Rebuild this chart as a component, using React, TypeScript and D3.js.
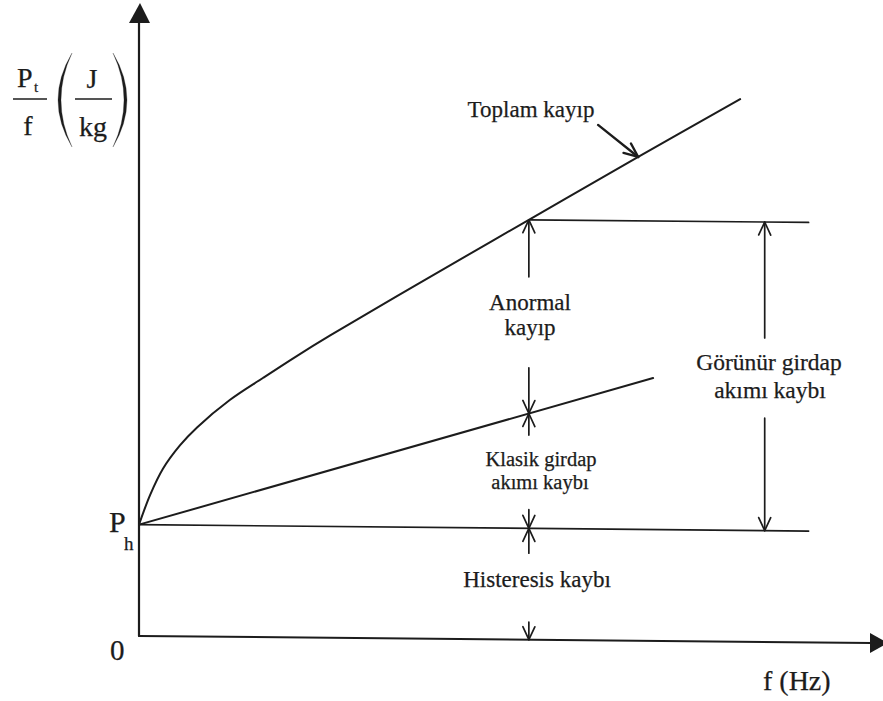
import React from "react";
import * as d3 from "d3";

const W = 883;
const H = 701;

// Loss per cycle (arbitrary units) against frequency (arbitrary units)
const PH = 19.7; // hysteresis loss level
const totalF = [0, 1.5, 3.2, 5.5, 7.8, 12.2, 16.7, 21.2, 25.7, 37.8, 52.4, 67.1, 80.8];
const totalV = [19.7, 25.0, 29.6, 33.8, 37.0, 41.9, 45.9, 49.8, 53.5, 63.0, 74.3, 85.6, 96.0];
const classicF = [0, 69.1];
const classicV = [19.7, 46.5];
const hystEndF = 90;
const markF = 52.4; // frequency where the loss components are broken down
const apparentF = 84.1; // frequency of the apparent eddy-current loss bracket

// Label texts
const yLabelTop = "P";
const yLabelSub = "t";
const xLabel = "f (Hz)";
const phLabel = "P";
const phSub = "h";
const zeroLabel = "0";

const INK = "#1c1c1c";
const FONT = "'Liberation Serif', 'Times New Roman', serif";

function arrowHead(x1: number, y1: number, x2: number, y2: number, len = 13, half = 6) {
  const a = Math.atan2(y2 - y1, x2 - x1);
  const bx = x2 - len * Math.cos(a);
  const by = y2 - len * Math.sin(a);
  const nx = -Math.sin(a) * half;
  const ny = Math.cos(a) * half;
  return `M${bx + nx},${by + ny}L${x2},${y2}L${bx - nx},${by - ny}`;
}

export default function App() {
  const x = d3.scaleLinear().domain([0, 100]).range([139, 883]);
  const y = d3.scaleLinear().domain([0, 112]).range([636, 3]);

  const totalPts: [number, number][] = totalF.map((f, i) => [f, totalV[i]]);
  const classicPts: [number, number][] = classicF.map((f, i) => [f, classicV[i]]);

  const line = d3
    .line<[number, number]>()
    .x((d) => x(d[0]))
    .y((d) => y(d[1]))
    .curve(d3.curveCatmullRom.alpha(0.5));
  const straight = d3
    .line<[number, number]>()
    .x((d) => x(d[0]))
    .y((d) => y(d[1]));

  const totalAt = d3.scaleLinear().domain(totalF).range(totalV);
  const classicAt = d3.scaleLinear().domain(classicF).range(classicV);
  const totalMark = totalAt(markF);
  const classicMark = classicAt(markF);

  // [frequency, tail value, tip value]
  const arrows: [number, number, number][] = [
    [markF, 64.2, totalMark],
    [markF, 48.1, classicMark],
    [markF, 36.2, classicMark],
    [markF, 23.0, PH],
    [markF, 15.3, PH],
    [markF, 3.1, 0],
    [apparentF, 53.8, totalMark],
    [apparentF, 39.6, PH],
  ];

  const toplamTail: [number, number] = [61.7, 91.2];
  const toplamTip: [number, number] = [67.1, 85.6];

  const x0 = x(0);
  const yAxisTop = 3;
  const xAxisEnd = 888;

  // Slight shear of the drawing about the vertical axis
  const shear = `translate(${x0},0) skewY(0.545) translate(${-x0},0)`;

  return (
    <svg
      width={W}
      height={H}
      viewBox={`0 0 ${W} ${H}`}
      style={{ position: "absolute", left: 0, top: 0, background: "#fff" }}
    >
      <rect width={W} height={H} fill="#fff" />
      <g transform={shear} fill="none" stroke={INK} strokeLinecap="round" strokeLinejoin="round">
        {/* axes */}
        <line x1={x0} y1={y(0)} x2={x0} y2={yAxisTop + 18} strokeWidth={2.2} />
        <path
          d={`M${x0 - 10},${yAxisTop + 20}L${x0 + 1},${yAxisTop}L${x0 + 11},${yAxisTop + 20}Z`}
          fill={INK}
          stroke="none"
        />
        <line x1={x0} y1={y(0)} x2={xAxisEnd - 16} y2={y(0)} strokeWidth={2} />
        <path
          d={`M${xAxisEnd - 18},${y(0) - 10}L${xAxisEnd},${y(0)}L${xAxisEnd - 18},${y(0) + 10}Z`}
          fill={INK}
          stroke="none"
        />

        {/* hysteresis level */}
        <path d={straight([[0, PH], [hystEndF, PH]]) || ""} strokeWidth={1.7} />
        {/* classical eddy-current loss */}
        <path d={straight(classicPts) || ""} strokeWidth={2} />
        {/* total loss */}
        <path d={line(totalPts) || ""} strokeWidth={2} />
        {/* level of total loss carried over to the bracket */}
        <path d={straight([[markF, totalMark], [hystEndF, totalMark]]) || ""} strokeWidth={1.7} />

        {/* component arrows */}
        {arrows.map(([f, from, to], i) => {
          const xa = x(f);
          const y1 = y(from);
          const y2 = y(to);
          return (
            <g key={i}>
              <line x1={xa} y1={y1} x2={xa} y2={y2} strokeWidth={1.7} />
              <path d={arrowHead(xa, y1, xa, y2, 13, 6)} strokeWidth={1.7} />
            </g>
          );
        })}

        {/* pointer to the total loss curve */}
        <line
          x1={x(toplamTail[0])}
          y1={y(toplamTail[1])}
          x2={x(toplamTip[0])}
          y2={y(toplamTip[1])}
          strokeWidth={2.4}
        />
        <path
          d={arrowHead(x(toplamTail[0]), y(toplamTail[1]), x(toplamTip[0]), y(toplamTip[1]), 14, 6)}
          strokeWidth={2.4}
        />
      </g>

      {/* y-axis quantity: Pt / f (J / kg) */}
      <g fill={INK} fontFamily={FONT} stroke={INK} strokeWidth={0.25}>
        <text x={17} y={87} fontSize={28}>{yLabelTop}</text>
        <text x={34} y={92} fontSize={15}>{yLabelSub}</text>
        <line x1={13} y1={99} x2={47} y2={99} stroke={INK} strokeWidth={1.6} />
        <text x={28} y={135} fontSize={28} textAnchor="middle">f</text>
        <path d="M72,53 Q44,100 72,147 Q50,100 72,53 Z" />
        <path d="M113,53 Q141,100 113,147 Q135,100 113,53 Z" />
        <text x={92} y={88} fontSize={28} textAnchor="middle">J</text>
        <line x1={75} y1={99} x2={112} y2={99} stroke={INK} strokeWidth={1.6} />
        <text x={93} y={136} fontSize={28} textAnchor="middle">kg</text>

        <text x={109} y={532} fontSize={30}>{phLabel}</text>
        <text x={124} y={550} fontSize={19}>{phSub}</text>
        <text x={110} y={660} fontSize={29}>{zeroLabel}</text>
        <text x={763} y={690} fontSize={28}>{xLabel}</text>

        <text x={531} y={117} fontSize={23} textAnchor="middle">Toplam kayıp</text>
        <text x={530} y={310} fontSize={23} textAnchor="middle">Anormal</text>
        <text x={530} y={335} fontSize={23} textAnchor="middle">kayıp</text>
        <text x={541} y={466} fontSize={20.5} textAnchor="middle">Klasik girdap</text>
        <text x={540} y={489} fontSize={20.5} textAnchor="middle">akımı kaybı</text>
        <text x={537} y={587} fontSize={23} textAnchor="middle">Histeresis kaybı</text>
        <text x={769} y={370} fontSize={23.5} textAnchor="middle">Görünür girdap</text>
        <text x={770} y={398} fontSize={23.5} textAnchor="middle">akımı kaybı</text>
      </g>
    </svg>
  );
}
